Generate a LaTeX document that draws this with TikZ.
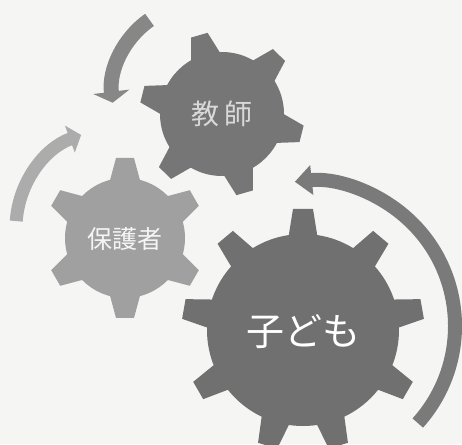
\documentclass[tikz,border=0pt]{standalone}
\usepackage{fontspec}
\newfontfamily\jpfont{Noto Sans CJK JP}
\usepackage{tikz}
\usetikzlibrary{arrows.meta}

\definecolor{paper}{RGB}{245,245,243}
\definecolor{teachergray}{RGB}{118,118,118}
\definecolor{parentgray}{RGB}{160,160,160}
\definecolor{childgray}{RGB}{112,112,112}
\definecolor{topgray}{RGB}{135,135,135}
\definecolor{leftgray}{RGB}{172,172,172}
\definecolor{rightgray}{RGB}{122,122,122}

\begin{document}
\begin{tikzpicture}[x=1pt, y=1pt,
        gearlabel/.style={inner sep=0pt, font=\jpfont},
        turn/.style={line width=#1, line cap=butt}]
    \useasboundingbox (0,0) rectangle (462,444);
    \fill[paper] (0,0) rectangle (462,444);

    \coordinate (teacher) at (222,330);
    \coordinate (parent) at (125,206);
    \coordinate (child) at (303,114);

    % gears
    \fill[teachergray] (teacher) circle[radius=62];
    \foreach \a in {106,166,...,406}
        \fill[teachergray, shift={(teacher)}, rotate=\a] (56,-16) -- (82,-8.5) -- (82,8.5) -- (56,16) -- cycle;

    \fill[parentgray] (parent) circle[radius=60];
    \foreach \a in {90,150,...,390}
        \fill[parentgray, shift={(parent)}, rotate=\a] (54,-16) -- (80,-9) -- (80,9) -- (54,16) -- cycle;

    \fill[childgray] (child) circle[radius=96];
    \foreach \a in {90,50,10,-30,-73,-107,-150,170,130}
        \fill[childgray, shift={(child)}, rotate=\a] (90,-15) -- (121,-10) -- (121,10) -- (90,15) -- cycle;

    \node[gearlabel, text=gray!30, font=\jpfont\fontsize{28}{30}\selectfont] (teacherlabel) at (teacher) {教\hspace{6pt}師};
    \node[gearlabel, text=white!96!black, font=\jpfont\fontsize{25}{27}\selectfont] (parentlabel) at ([yshift=-1]parent) {保護者};
    \node[gearlabel, text=white, font=\jpfont\fontsize{38}{40}\selectfont] (childlabel) at ([yshift=-2]child) {子ども};

    % arrows
    \coordinate (topturn) at (200,352);
    \coordinate (leftturn) at (115,216);
    \coordinate (rightturn) at (310,118);

    \draw[turn=15pt, topgray, -{Triangle[width=36pt, length=11pt]}]
        ([shift={(125:88)}]topturn) arc[start angle=125, end angle=187, radius=88];
    \draw[turn=13pt, leftgray, -{Triangle[width=28pt, length=12pt]}]
        ([shift={(176:99)}]leftturn) arc[start angle=176, end angle=110, radius=99];
    \draw[turn=14pt, rightgray, -{Triangle[width=29pt, length=17pt]}]
        ([shift={(-42:145)}]rightturn) arc[start angle=-42, end angle=96, radius=145];
\end{tikzpicture}
\end{document}
